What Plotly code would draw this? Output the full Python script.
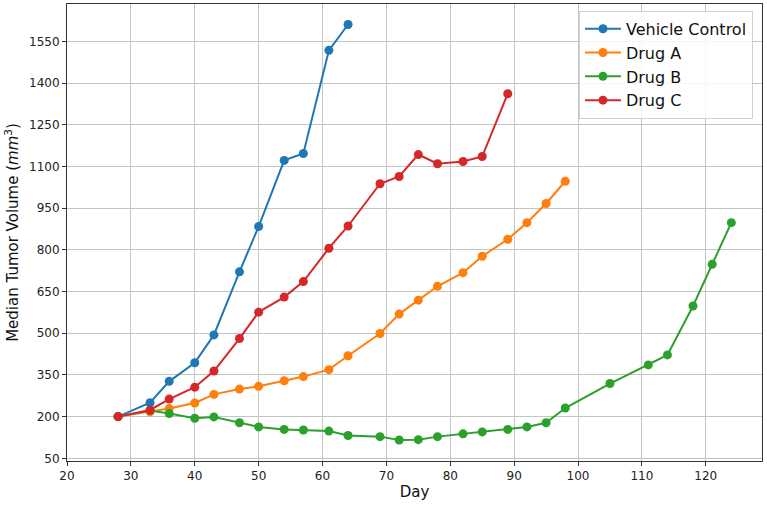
import plotly.graph_objects as go

# days and median tumour volumes (mm^3) per group
VEHICLE_DAYS = [28, 33, 36, 40, 43, 47, 50, 54, 57, 61, 64]
VEHICLE_VOL = [200, 250, 327, 394, 494, 721, 884, 1122, 1147, 1518, 1611]

DRUG_A_DAYS = [28, 33, 36, 40, 43, 47, 50, 54, 57, 61, 64, 69, 72, 75, 78, 82, 85, 89, 92, 95, 98]
DRUG_A_VOL = [200, 217, 229, 249, 280, 299, 309, 329, 344, 369, 419, 499, 569, 619, 669, 718, 777,
              838, 898, 967, 1047]

DRUG_B_DAYS = [28, 33, 36, 40, 43, 47, 50, 54, 57, 61, 64, 69, 72, 75, 78, 82, 85, 89, 92, 95, 98,
               105, 111, 114, 118, 121, 124]
DRUG_B_VOL = [200, 222, 211, 194, 199, 178, 163, 154, 152, 148, 132, 128, 116, 117, 128, 138, 145,
              154, 163, 178, 231, 319, 386, 422, 598, 748, 898]

DRUG_C_DAYS = [28, 33, 36, 40, 43, 47, 50, 54, 57, 61, 64, 69, 72, 75, 78, 82, 85, 89]
DRUG_C_VOL = [200, 224, 263, 306, 364, 481, 576, 630, 686, 806, 886, 1038, 1064, 1143, 1110, 1118,
              1136, 1362]

SERIES = [
    ("Vehicle Control", VEHICLE_DAYS, VEHICLE_VOL, "#1f77b4"),
    ("Drug A", DRUG_A_DAYS, DRUG_A_VOL, "#ff7f0e"),
    ("Drug B", DRUG_B_DAYS, DRUG_B_VOL, "#2ca02c"),
    ("Drug C", DRUG_C_DAYS, DRUG_C_VOL, "#d62728"),
]

fig = go.Figure()
for name, days, vol, color in SERIES:
    fig.add_trace(go.Scatter(
        x=days, y=vol, mode="lines+markers", name=name,
        line=dict(color=color, width=2),
        marker=dict(color=color, size=9),
    ))

axis_style = dict(
    showgrid=True, gridcolor="#c4c4c4", gridwidth=1,
    showline=True, linecolor="#333333", linewidth=1, mirror=True,
    ticks="outside", ticklen=4, tickcolor="#333333",
    tickfont=dict(size=12, color="#222222"),
    title_font=dict(size=15, color="#111111"),
    zeroline=False, automargin=False,
)

fig.update_xaxes(title_text="Day", range=[20, 128.8], tick0=20, dtick=10,
                 title_standoff=4, **axis_style)
fig.update_yaxes(title_text="Median Tumor Volume (<i>mm</i><sup>3</sup>)", range=[40.3, 1684.8],
                 tick0=50, dtick=150, title_standoff=6, **axis_style)

fig.update_layout(
    width=767, height=506,
    font=dict(family="DejaVu Sans"),
    plot_bgcolor="#ffffff", paper_bgcolor="#ffffff",
    margin=dict(l=67, r=5, t=4, b=45),
    legend=dict(
        x=0.987, xanchor="right", y=0.985, yanchor="top",
        font=dict(size=16, color="#111111"),
        bgcolor="rgba(255,255,255,0.85)", bordercolor="#d0d0d0", borderwidth=1,
        tracegroupgap=0, itemwidth=36,
    ),
)

# drop the browser's default body margin so the figure sits at the window's corner
fig.write_html("out.html", config={"displayModeBar": False},
               post_script="document.body.style.margin='0';")
